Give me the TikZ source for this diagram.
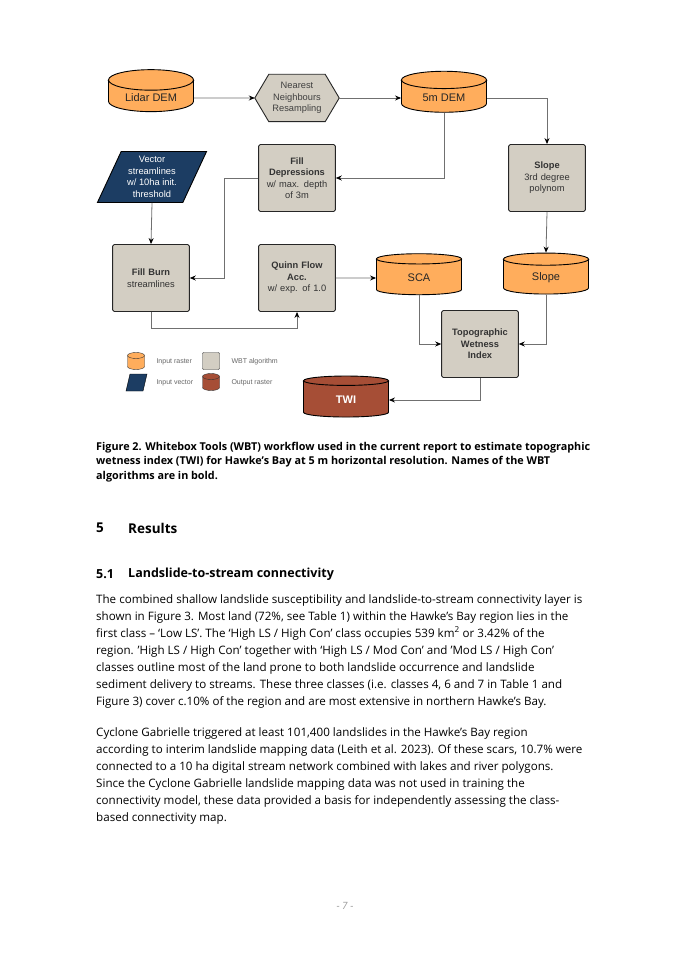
\documentclass[tikz,border=0pt]{standalone}
\usepackage{fontspec}
\setmainfont{Open Sans}
\newfontfamily\diagfont{Liberation Sans}
\usetikzlibrary{shapes.geometric,arrows.meta}
\definecolor{rasterorange}{HTML}{FFAD5C}
\definecolor{wbtgray}{HTML}{D3CEC3}
\definecolor{vectorblue}{HTML}{1C3D63}
\definecolor{outbrown}{HTML}{A64E36}
\definecolor{linegray}{HTML}{707070}
\tikzset{
  raster/.style={cylinder, shape border rotate=90, aspect=0.35, draw=black, line width=0.9pt,
    fill=rasterorange, minimum width=85pt, minimum height=41pt, font=\diagfont\fontsize{11}{12}\selectfont, text=black!85,
    append after command={\pgfextra{\draw[line width=0.9pt] (\tikzlastnode.before top) .. controls +(0,-6pt) and +(0,-6pt) .. (\tikzlastnode.after top);}}},
  algo/.style={rectangle, rounded corners=1.5pt, draw=black!85, line width=0.9pt, fill=wbtgray,
    minimum width=72pt, minimum height=67pt, align=center, text width=70pt, text=black!80,
    font=\diagfont\fontsize{9.3}{11.5}\selectfont},
  flow/.style={draw=linegray, line width=0.8pt, -{Stealth[length=6pt,width=5pt,color=black]}},
  textblock/.style={anchor=north west, align=left, inner sep=0pt},
}
\newcommand{\legcylinder}[2]{% centre, fill colour
  \begin{scope}[shift={(#1)}]
  \draw[draw=black!80, fill=#2] (-8.5,-5.5) -- (-8.5,5.5)
    arc[start angle=180, end angle=0, x radius=8.5, y radius=3] -- (8.5,-5.5)
    arc[start angle=0, end angle=-180, x radius=8.5, y radius=3] -- cycle;
  \draw[draw=black!80] (-8.5,-5.5) arc[start angle=180, end angle=0, x radius=8.5, y radius=3];
  \end{scope}}
\begin{document}
\begin{tikzpicture}[x=1pt,y=-1pt]
\useasboundingbox[fill=white] (0,0) rectangle (675,955);
% workflow
\node[raster] (lidar) at (151,98) {Lidar DEM};
\node[minimum width=84pt, minimum height=47pt] (resample) at (297,98) {};
\draw[fill=wbtgray, draw=black!85, line width=0.9pt] (resample.west) -- ([xshift=14pt]resample.north west)
  -- ([xshift=-14pt]resample.north east) -- (resample.east) -- ([xshift=-14pt]resample.south east)
  -- ([xshift=14pt]resample.south west) -- cycle;
\node[align=center, text=black!75, font=\diagfont\fontsize{9.3}{11.5}\selectfont] at (resample.center) {Nearest\\Neighbours\\Resampling};
\node[raster] (dem) at (444,98) {5m DEM};
\node[trapezium, trapezium left angle=65, trapezium right angle=115, draw=black, line width=0.9pt,
  fill=vectorblue, text=white, minimum width=76pt, minimum height=51pt, inner sep=0pt, align=center,
  font=\diagfont\fontsize{9.3}{11.5}\selectfont] (vector) at (152,177) {Vector\\streamlines\\w/ 10ha init.\\threshold};
\node[algo] (filldep) at (297,178) {\textbf{Fill}\\\textbf{Depressions}\\w/ max. depth\\of 3m};
\node[algo] (slopealg) at (547,178) {\textbf{Slope}\\3rd degree\\polynom};
\node[algo] (fillburn) at (151,278) {\textbf{Fill Burn}\\streamlines};
\node[algo] (quinn) at (297,278) {\textbf{Quinn Flow}\\\textbf{Acc.}\\w/ exp. of 1.0};
\node[raster] (sca) at (419,278) {SCA};
\node[raster] (slope) at (546,278) {Slope};
\node[algo] (twialg) at (480,344) {\textbf{Topographic}\\\textbf{Wetness}\\\textbf{Index}};
\node[raster, fill=outbrown, text=white, font=\diagfont\bfseries\fontsize{11}{12}\selectfont] (twi) at (346,400) {TWI};
% connectors
\draw[flow] (lidar) -- (resample);
\draw[flow] (resample) -- (dem);
\draw[flow] (dem.east) -| (slopealg.north);
\draw[flow] (dem.bottom) |- (filldep.east);
\draw[flow] (filldep.west) -| (224,278) -- (fillburn.east);
\draw[flow] (vector.south) -- (fillburn.north);
\draw[flow] (fillburn.south) |- (297,328) -- (quinn.south);
\draw[flow] (quinn.east) -- (sca.west);
\draw[flow] (slopealg.south) -- (slope.top);
\draw[flow] (sca.bottom) |- (twialg.west);
\draw[flow] (slope.bottom) |- (twialg.east);
\draw[flow] (twialg.south) |- (twi.east);
% legend
\tikzset{legtext/.style={anchor=west, text=black!60, font=\diagfont\fontsize{7}{8}\selectfont}}
\legcylinder{136,361}{rasterorange}
\node[legtext] at (153,362) {Input raster};
\node[rectangle, rounded corners=1pt, draw=black!80, fill=wbtgray, minimum width=17pt, minimum height=17pt] (legalgo) at (211,361) {};
\node[legtext] at (228,362) {WBT algorithm};
\draw[draw=black, fill=vectorblue] (130,374) -- (147,374) -- (143,391) -- (126,391) -- cycle;
\node[legtext] at (153,383) {Input vector};
\legcylinder{211,382}{outbrown}
\node[legtext] at (228,383) {Output raster};
% caption and text
\node[textblock, font=\bfseries\fontsize{10.8}{14.5}\selectfont] (caption) at (96,442)
  {Figure 2. Whitebox Tools (WBT) workflow used in the current report to estimate topographic\\
   wetness index (TWI) for Hawke’s Bay at 5 m horizontal resolution. Names of the WBT\\
   algorithms are in bold.};
\node[anchor=west, inner sep=0pt, font=\bfseries\fontsize{13.5}{15}\selectfont] (h5) at (96,528) {5};
\node[anchor=west, inner sep=0pt, font=\bfseries\fontsize{13.5}{15}\selectfont] (results) at (128,528) {Results};
\node[anchor=west, inner sep=0pt, font=\bfseries\fontsize{12.5}{14}\selectfont] (h51) at (96,574) {5.1};
\node[anchor=west, inner sep=0pt, font=\bfseries\fontsize{12.5}{14}\selectfont] (connect) at (128,574) {Landslide-to-stream connectivity};
\node[textblock, font=\fontsize{11.6}{17}\selectfont] (para1) at (96,594)
  {The combined shallow landslide susceptibility and landslide-to-stream connectivity layer is\\
   shown in Figure 3. Most land (72\%, see Table 1) within the Hawke’s Bay region lies in the\\
   first class – ‘Low LS’. The ‘High LS / High Con’ class occupies 539 km\textsuperscript{2} or 3.42\% of the\\
   region. ’High LS / High Con’ together with ‘High LS / Mod Con’ and ’Mod LS / High Con’\\
   classes outline most of the land prone to both landslide occurrence and landslide\\
   sediment delivery to streams. These three classes (i.e. classes 4, 6 and 7 in Table 1 and\\
   Figure 3) cover c.10\% of the region and are most extensive in northern Hawke’s Bay.};
\node[textblock, font=\fontsize{11.6}{17}\selectfont] (para2) at (96,727)
  {Cyclone Gabrielle triggered at least 101,400 landslides in the Hawke’s Bay region\\
   according to interim landslide mapping data (Leith et al. 2023). Of these scars, 10.7\% were\\
   connected to a 10 ha digital stream network combined with lakes and river polygons.\\
   Since the Cyclone Gabrielle landslide mapping data was not used in training the\\
   connectivity model, these data provided a basis for independently assessing the class-\\
   based connectivity map.};
\node[text=black!40, font=\itshape\fontsize{10}{12}\selectfont] (pagenum) at (345,906) {- 7 -};
\end{tikzpicture}
\end{document}
